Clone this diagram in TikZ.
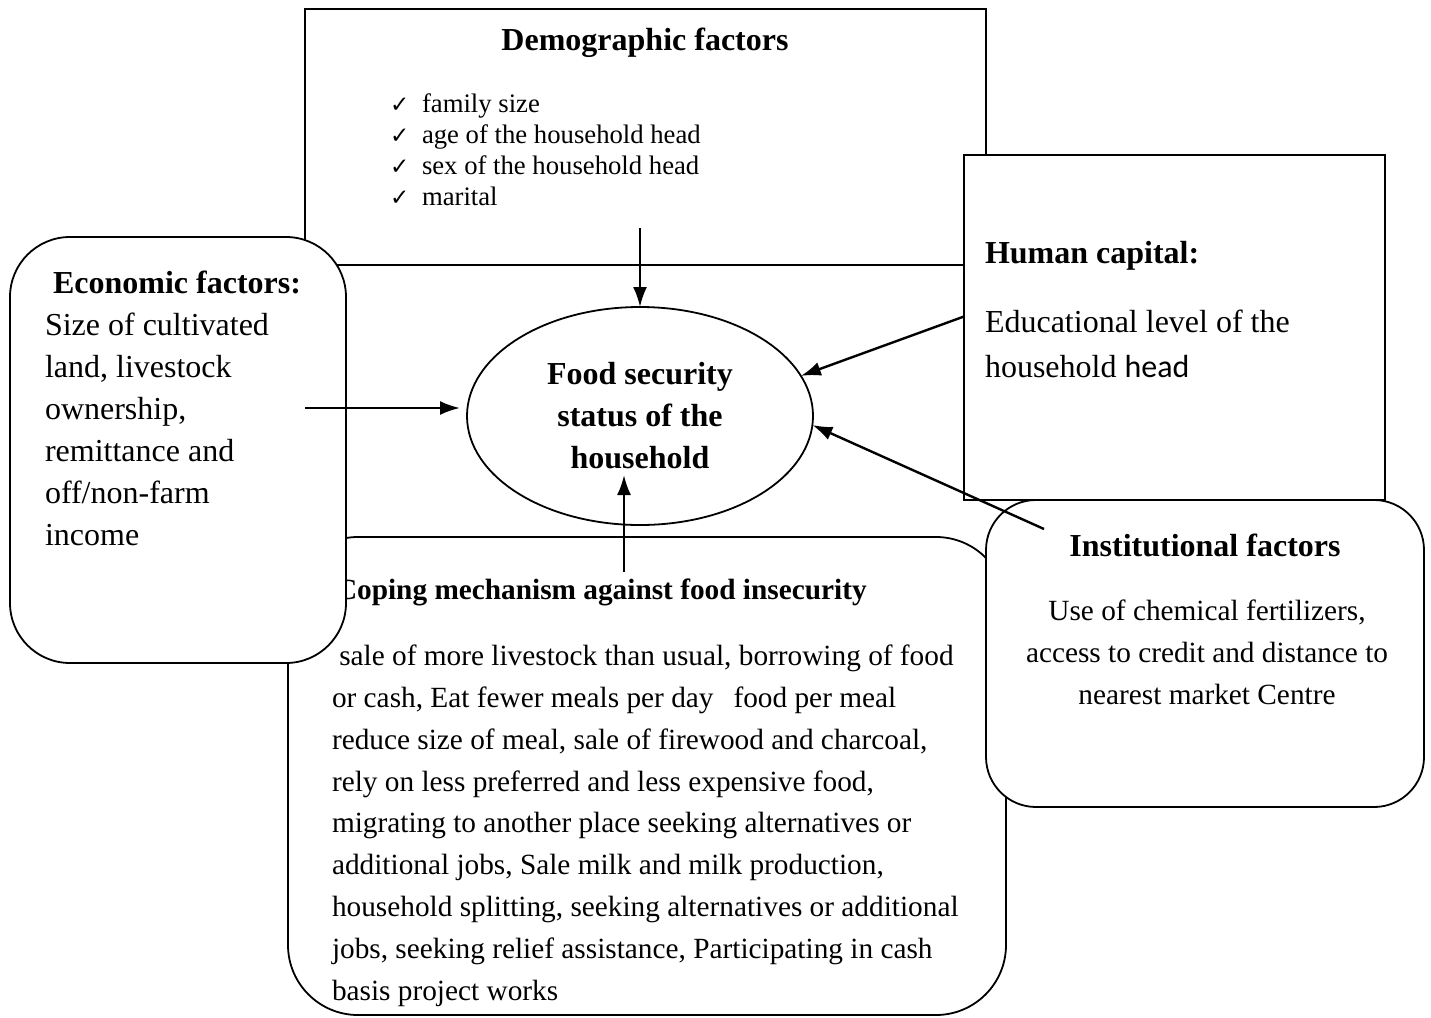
\documentclass[tikz,border=0pt]{standalone}
\usepackage{fontspec}
\setmainfont{Liberation Serif}
\newfontfamily\calibrifont{Carlito}
\newfontfamily\checkfont{DejaVu Sans}
\usetikzlibrary{arrows.meta,positioning,calc,shapes.geometric}

\newcommand{\sizetwelve}{\fontsize{32}{42}\selectfont}
\newcommand{\sizeeleven}{\fontsize{29.3}{41.8}\selectfont}
\newcommand{\sizeten}{\fontsize{26.7}{31}\selectfont}
\newcommand{\tick}{\makebox[32pt][l]{\checkfont\fontsize{23}{23}\selectfont ✓}}

\begin{document}
\begin{tikzpicture}[x=1pt, y=-1pt,
  every node/.style={inner sep=0pt, outer sep=0pt},
  sharpbox/.style={draw, line width=1.8pt, fill=white},
  roundbox/.style={draw, line width=1.8pt, fill=white, rounded corners=#1},
  arr/.style={-{Latex[length=20pt,width=14pt]}, line width=2.4pt}]
\useasboundingbox (0,0) rectangle (1431,1017);

% demographic factors
\node[sharpbox, minimum width=681pt, minimum height=256pt] (demo) at (645.5,137) {};
\node[anchor=base, font=\sizetwelve\bfseries] (demotitle) at (645,50) {Demographic factors};
\node[anchor=north west, align=left, font=\sizeten] (demolist) at (390,94) {\tick family size\\ \tick age of the household head\\ \tick sex of the household head\\ \tick marital};

% coping mechanism
\node[roundbox=70pt, minimum width=718pt, minimum height=478pt] (cope) at (647,776) {};
\node[anchor=base west, font=\sizeeleven\bfseries] (copetitle) at (336,599) {Coping mechanism against food insecurity};
\node[anchor=north west, align=left, font=\sizeeleven] (copetext) at (332,645) {\ sale of more livestock than usual, borrowing of food\\ or cash, Eat fewer meals per day\hspace{20pt}food per meal\\ reduce size of meal, sale of firewood and charcoal,\\ rely on less preferred and less expensive food,\\ migrating to another place seeking alternatives or\\ additional jobs, Sale milk and milk production,\\ household splitting, seeking alternatives or additional\\ jobs, seeking relief assistance, Participating in cash\\ basis project works};

% institutional factors
\node[roundbox=50pt, minimum width=438pt, minimum height=307pt] (inst) at (1205,653.5) {};
\node[anchor=base, font=\sizetwelve\bfseries] (insttitle) at (1205,556) {Institutional factors};
\node[anchor=north, align=center, font=\sizeeleven] (insttext) at (1207,600) {Use of chemical fertilizers,\\ access to credit and distance to\\ nearest market Centre};

% human capital
\node[sharpbox, minimum width=421pt, minimum height=345pt] (hum) at (1174.5,327.5) {};
\node[anchor=base west, font=\sizetwelve\bfseries] (humtitle) at (985,263) {Human capital:};
\node[anchor=north west, align=left, font=\fontsize{32}{45}\selectfont] (humtext) at (985,310) {Educational level of the\\ household {\calibrifont head}};

% economic factors
\node[roundbox=60pt, minimum width=336pt, minimum height=426pt] (econ) at (178,450) {};
\node[anchor=base, font=\sizetwelve\bfseries] (econtitle) at (177,293) {Economic factors:};
\node[anchor=north west, align=left, font=\sizetwelve] (econtext) at (45,313) {Size of cultivated\\ land, livestock\\ ownership,\\ remittance and\\ off/non-farm\\ income};

% food security status
\node[ellipse, draw, line width=1.8pt, minimum width=346pt, minimum height=218pt, align=center, font=\sizetwelve\bfseries] (food) at (640,416) {Food security\\ status of the\\ household};

% arrows
\coordinate (demotail) at (640,228);
\coordinate (econtail) at (305,408);
\coordinate (humtail) at ($(hum.west)+(0,-11)$);
\coordinate (insttail) at (1044,529);
\coordinate (copetail) at (624,572);
\draw[arr] (demotail) -- (food.north);
\draw[arr, shorten >=7pt] (econtail) -- (econtail -| food.west);
\draw[arr] (humtail) -- (food.14);
\draw[arr] (insttail) -- (food.-3);
\draw[arr] (copetail) -- ($(food.south)+(-16,-50)$);
\end{tikzpicture}
\end{document}
